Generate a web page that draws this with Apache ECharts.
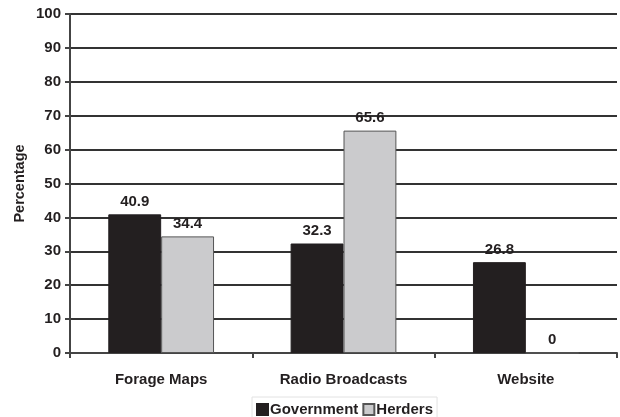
<!DOCTYPE html>
<html>
<head>
<meta charset="utf-8">
<script src="https://cdn.jsdelivr.net/npm/echarts@6/dist/echarts.min.js"></script>
<style>
  html, body { margin: 0; padding: 0; background: #fff; }
  #chart { width: 620px; height: 417px; }
</style>
</head>
<body>
<div id="chart"></div>
<script>
// Information channels used, by group (percent)
var categories = ['Forage Maps', 'Radio Broadcasts', 'Website'];
var government = [40.9, 32.3, 26.8];
var herders = [34.4, 65.6, 0];
var yTicks = [0, 10, 20, 30, 40, 50, 60, 70, 80, 90, 100];

var font = 'Liberation Sans, Arial, Helvetica, sans-serif';
var ink = '#231f20';

var chart = echarts.init(document.getElementById('chart'), null, { renderer: 'canvas' });

var valueLabel = {
  show: true,
  position: 'top',
  distance: 5,
  color: ink,
  fontFamily: font,
  fontWeight: 'bold',
  fontSize: 15
};

chart.setOption({
  animation: false,
  backgroundColor: '#fff',
  grid: { left: 70, right: 3, top: 14, bottom: 64 },
  legend: {
    bottom: -8,
    left: 252,
    data: ['Government', 'Herders'],
    icon: 'rect',
    itemWidth: 11,
    itemHeight: 11,
    itemGap: 4,
    padding: [5, 4, 8, 4],
    borderColor: '#e2e2e2',
    borderWidth: 1,
    textStyle: { color: ink, fontFamily: font, fontWeight: 'bold', fontSize: 15, padding: [0, 0, 0, -3] }
  },
  xAxis: {
    type: 'category',
    data: categories,
    axisLine: { lineStyle: { color: '#444', width: 2 } },
    axisTick: { show: true, length: 5, lineStyle: { color: '#444', width: 2 } },
    axisLabel: { color: ink, fontFamily: font, fontWeight: 'bold', fontSize: 15, margin: 19 }
  },
  yAxis: {
    type: 'value',
    min: yTicks[0],
    max: yTicks[yTicks.length - 1],
    interval: yTicks[1] - yTicks[0],
    name: 'Percentage',
    nameLocation: 'middle',
    nameGap: 43,
    nameMoveOverlap: false,
    nameRotate: 90,
    nameTextStyle: { color: ink, fontFamily: font, fontWeight: 'bold', fontSize: 14.5 },
    axisLine: { show: true, lineStyle: { color: '#444', width: 2 } },
    axisTick: { show: true, length: 5, lineStyle: { color: '#444', width: 2 } },
    axisLabel: { color: ink, fontFamily: font, fontWeight: 'bold', fontSize: 15, margin: 9 },
    splitLine: { show: true, lineStyle: { color: '#333', width: 2 } }
  },
  series: [
    {
      name: 'Government',
      type: 'bar',
      data: government,
      barGap: '0%',
      barCategoryGap: '42%',
      itemStyle: { color: ink, borderColor: ink, borderWidth: 1 },
      label: valueLabel
    },
    {
      name: 'Herders',
      type: 'bar',
      data: herders,
      itemStyle: { color: '#cbcbcd', borderColor: '#555', borderWidth: 1 },
      label: valueLabel
    }
  ]
});
</script>
</body>
</html>
